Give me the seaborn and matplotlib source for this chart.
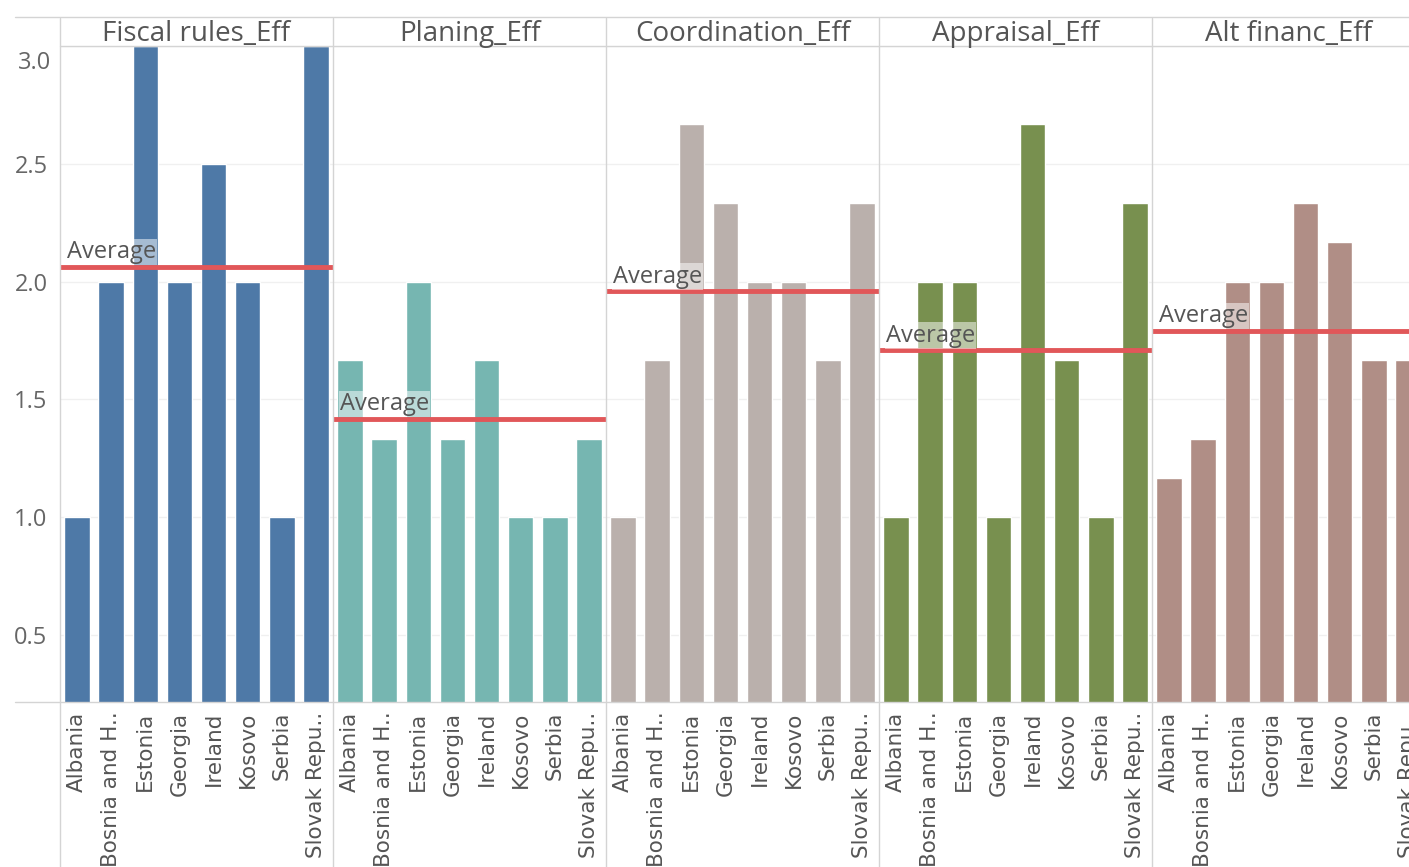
import matplotlib
matplotlib.use("Agg")
import matplotlib.pyplot as plt
import seaborn as sns
from matplotlib.lines import Line2D

sns.set_style("white")
plt.rcParams['font.family'] = ['Open Sans', 'DejaVu Sans']

countries = ["Albania", "Bosnia and H..", "Estonia", "Georgia", "Ireland",
             "Kosovo", "Serbia", "Slovak Repu.."]
measures = ["Fiscal rules_Eff", "Planing_Eff", "Coordination_Eff",
            "Appraisal_Eff", "Alt financ_Eff"]
fiscal_rules = [1.0, 2.0, 3.0, 2.0, 2.5, 2.0, 1.0, 3.0]
planing = [1.667, 1.333, 2.0, 1.333, 1.667, 1.0, 1.0, 1.333]
coordination = [1.0, 1.667, 2.667, 2.333, 2.0, 2.0, 1.667, 2.333]
appraisal = [1.0, 2.0, 2.0, 1.0, 2.667, 1.667, 1.0, 2.333]
alt_financ = [1.167, 1.333, 2.0, 2.0, 2.333, 2.167, 1.667, 1.667]
series = [fiscal_rules, planing, coordination, appraisal, alt_financ]
colors = ["#4e79a7", "#76b6b1", "#bab0ac", "#78904f", "#b08e86"]
yticks = [0.5, 1.0, 1.5, 2.0, 2.5, 3.0]
ytick_labels = ["0.5", "1.0", "1.5", "2.0", "2.5", "3.0"]

W, H = 1409, 867
fig = plt.figure(figsize=(W / 100, H / 100), dpi=100)

left0 = 60
pw = 273
top_px = 46
bot_px = 702
ymin, ymax = 0.216, 3.0
grid_c = "#d4d4d4"
txt_c = "#555555"

def fx(px):
    return px / W

def fy(py):
    return 1 - py / H

for i, (name, vals, col) in enumerate(zip(measures, series, colors)):
    ax = fig.add_axes([fx(left0 + i * pw), fy(bot_px), fx(pw), (bot_px - top_px) / H])
    sns.barplot(x=countries, y=vals, ax=ax, color=col, width=0.75,
                saturation=1, zorder=2)
    ax.set_ylim(ymin, ymax)
    ax.set_xlim(-0.5, 7.5)
    for s in ax.spines.values():
        s.set_visible(False)
    for t in yticks:
        ax.axhline(t, color="#f0f0f0", lw=1, zorder=0)
    ax.set_xlabel("")
    ax.set_ylabel("")
    ax.set_xticks(range(len(countries)))
    ax.set_xticklabels(countries, rotation=90, fontfamily="DejaVu Sans",
                       fontsize=15.5, color=txt_c, va="top")
    ax.tick_params(axis='x', length=0, pad=7)
    ax.set_yticks(yticks)
    if i == 0:
        ax.set_yticklabels(ytick_labels[:-1] + [""], fontsize=17, color="#666666")
        ax.tick_params(axis='y', length=0, pad=9)
        ax.annotate(ytick_labels[-1], xy=(0, yticks[-1]), xycoords=ax.get_yaxis_transform(),
                    xytext=(-6.5, -12.5), textcoords="offset points", ha="right",
                    va="center", fontsize=17, color="#666666")
    else:
        ax.tick_params(axis='y', length=0, labelleft=False)
    avg = sum(vals) / len(vals)
    ax.axhline(avg, color="#e15759", lw=3.5, zorder=4)
    ax.annotate("Average", xy=(0, avg), xycoords=ax.get_yaxis_transform(),
                xytext=(5, 2), textcoords="offset points", ha="left", va="bottom",
                fontsize=17, color=txt_c, zorder=5,
                bbox=dict(boxstyle="square,pad=0.05", fc="white", ec="none", alpha=0.5))
    fig.text(fx(left0 + i * pw + pw / 2), fy(34), name, ha="center", va="center",
             fontsize=20, color=txt_c)

# frame lines
fig.add_artist(Line2D([fx(15), 1], [fy(17), fy(17)], color=grid_c, lw=1))
fig.add_artist(Line2D([fx(left0), 1], [fy(top_px), fy(top_px)], color=grid_c, lw=1))
fig.add_artist(Line2D([fx(15), 1], [fy(bot_px), fy(bot_px)], color=grid_c, lw=1))
for i in range(6):
    x = fx(left0 + i * pw)
    fig.add_artist(Line2D([x, x], [fy(18), 0], color=grid_c, lw=1))

fig.savefig("out.png", dpi=100)
